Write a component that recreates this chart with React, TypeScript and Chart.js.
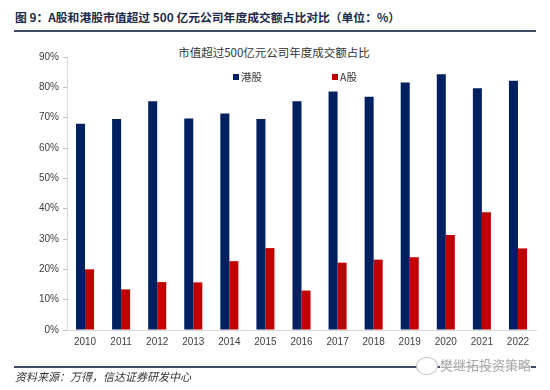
import React, { useEffect, useRef } from "react";
import { Chart, registerables } from "chart.js";

Chart.register(...registerables);

const years = ["2010", "2011", "2012", "2013", "2014", "2015", "2016", "2017", "2018", "2019", "2020", "2021", "2022"];
const hkShare = [68.0, 69.6, 75.4, 69.7, 71.4, 69.6, 75.4, 78.6, 76.9, 81.6, 84.3, 79.7, 82.2];
const aShare = [20.0, 13.4, 15.8, 15.7, 22.7, 27.0, 13.0, 22.2, 23.2, 24.0, 31.3, 38.8, 26.9];
const seriesLabels = ["港股", "A股"];
const seriesColors = ["#002060", "#C00000"];
const yTicks = [0, 10, 20, 30, 40, 50, 60, 70, 80, 90];

const figureTitle = "图 9：A股和港股市值超过 500 亿元公司年度成交额占比对比（单位：%）";
const chartTitle = "市值超过500亿元公司年度成交额占比";
const sourceText = "资料来源：万得，信达证券研发中心";
const watermark = "樊继拓投资策略";

const CJK = '"Noto Sans CJK SC", "Noto Sans", sans-serif';
const LATIN = '"Liberation Sans", Arial, sans-serif';

const legendPos = [
  { x: 233, y: 77 },
  { x: 332, y: 77 },
];

const legendPlugin = {
  id: "innerLegend",
  afterDraw(chart: any) {
    const ctx = chart.ctx;
    ctx.save();
    chart.data.datasets.forEach((ds: any, i: number) => {
      const p = legendPos[i];
      if (!p) return;
      ctx.fillStyle = ds.backgroundColor;
      ctx.fillRect(p.x, p.y - 3, 6, 6);
      ctx.fillStyle = "#333333";
      ctx.font = `10.5px ${CJK}`;
      ctx.textBaseline = "middle";
      ctx.textAlign = "left";
      ctx.fillText(ds.label, p.x + 8, p.y);
    });
    ctx.restore();
  },
};

export default function App() {
  const ref = useRef<HTMLCanvasElement | null>(null);

  useEffect(() => {
    if (!ref.current) return;
    const chart = new Chart(ref.current, {
      type: "bar",
      data: {
        labels: years,
        datasets: [
          { label: seriesLabels[0], data: hkShare, backgroundColor: seriesColors[0] },
          { label: seriesLabels[1], data: aShare, backgroundColor: seriesColors[1] },
        ],
      },
      options: {
        responsive: false,
        animation: false,
        maintainAspectRatio: false,
        categoryPercentage: 0.5,
        barPercentage: 1.0,
        layout: { padding: { top: 57, right: 14, left: 0, bottom: 0 } },
        plugins: {
          legend: { display: false },
          title: { display: false },
          tooltip: { enabled: false },
        },
        scales: {
          x: {
            grid: { display: false, drawTicks: false },
            border: { display: true, color: "#d9d9d9", width: 1 },
            ticks: { color: "#404040", font: { family: LATIN, size: 10 }, padding: 6, maxRotation: 0 },
            afterFit: (s: any) => {
              s.height = 60;
            },
          },
          y: {
            min: 0,
            max: 90,
            afterBuildTicks: (s: any) => {
              s.ticks = yTicks.map((v) => ({ value: v }));
            },
            grid: { drawOnChartArea: false, drawTicks: true, tickLength: 4, color: "#bfbfbf" },
            border: { display: true, color: "#d9d9d9", width: 1 },
            ticks: {
              color: "#404040",
              font: { family: LATIN, size: 10 },
              padding: 4,
              callback: (v: any) => `${v}%`,
            },
            afterFit: (s: any) => {
              s.width = 67;
            },
          },
        },
      },
      plugins: [legendPlugin],
    } as any);
    return () => chart.destroy();
  }, []);

  return (
    <div style={{ position: "fixed", left: 0, top: 0, width: 550, height: 390, background: "#ffffff", overflow: "hidden" }}>
      <div
        style={{
          position: "absolute",
          left: 15,
          top: 8,
          fontFamily: CJK,
          fontWeight: 700,
          fontSize: 11.8,
          lineHeight: "18px",
          color: "#1c2b4a",
          whiteSpace: "nowrap",
        }}
      >
        {figureTitle}
      </div>
      <div style={{ position: "absolute", left: 14, top: 30, width: 522, height: 2, background: "#3e4c66" }} />
      <div
        style={{
          position: "absolute",
          left: 0,
          width: 548,
          top: 43,
          textAlign: "center",
          fontFamily: CJK,
          fontSize: 11.5,
          lineHeight: "18px",
          color: "#333333",
          whiteSpace: "nowrap",
        }}
      >
        {chartTitle}
      </div>
      <canvas ref={ref} width={550} height={390} style={{ position: "absolute", left: 0, top: 0 }} />
      <div style={{ position: "absolute", left: 14, top: 366, width: 522, height: 2, background: "#3e4c66" }} />
      <div
        style={{
          position: "absolute",
          left: 15,
          top: 368,
          fontFamily: CJK,
          fontStyle: "italic",
          fontSize: 11,
          lineHeight: "16px",
          color: "#333333",
          whiteSpace: "nowrap",
        }}
      >
        {sourceText}
      </div>
      <div
        style={{
          position: "absolute",
          left: 416,
          top: 357,
          width: 20,
          height: 16,
          borderRadius: "50%",
          border: "1.5px solid #c0c0c0",
          background: "#ffffff",
        }}
      />
      <div
        style={{
          position: "absolute",
          left: 440,
          top: 357,
          fontFamily: CJK,
          fontSize: 13,
          lineHeight: "16px",
          color: "#a6a6a6",
          whiteSpace: "nowrap",
          background: "rgba(255,255,255,0.85)",
        }}
      >
        {watermark}
      </div>
    </div>
  );
}
